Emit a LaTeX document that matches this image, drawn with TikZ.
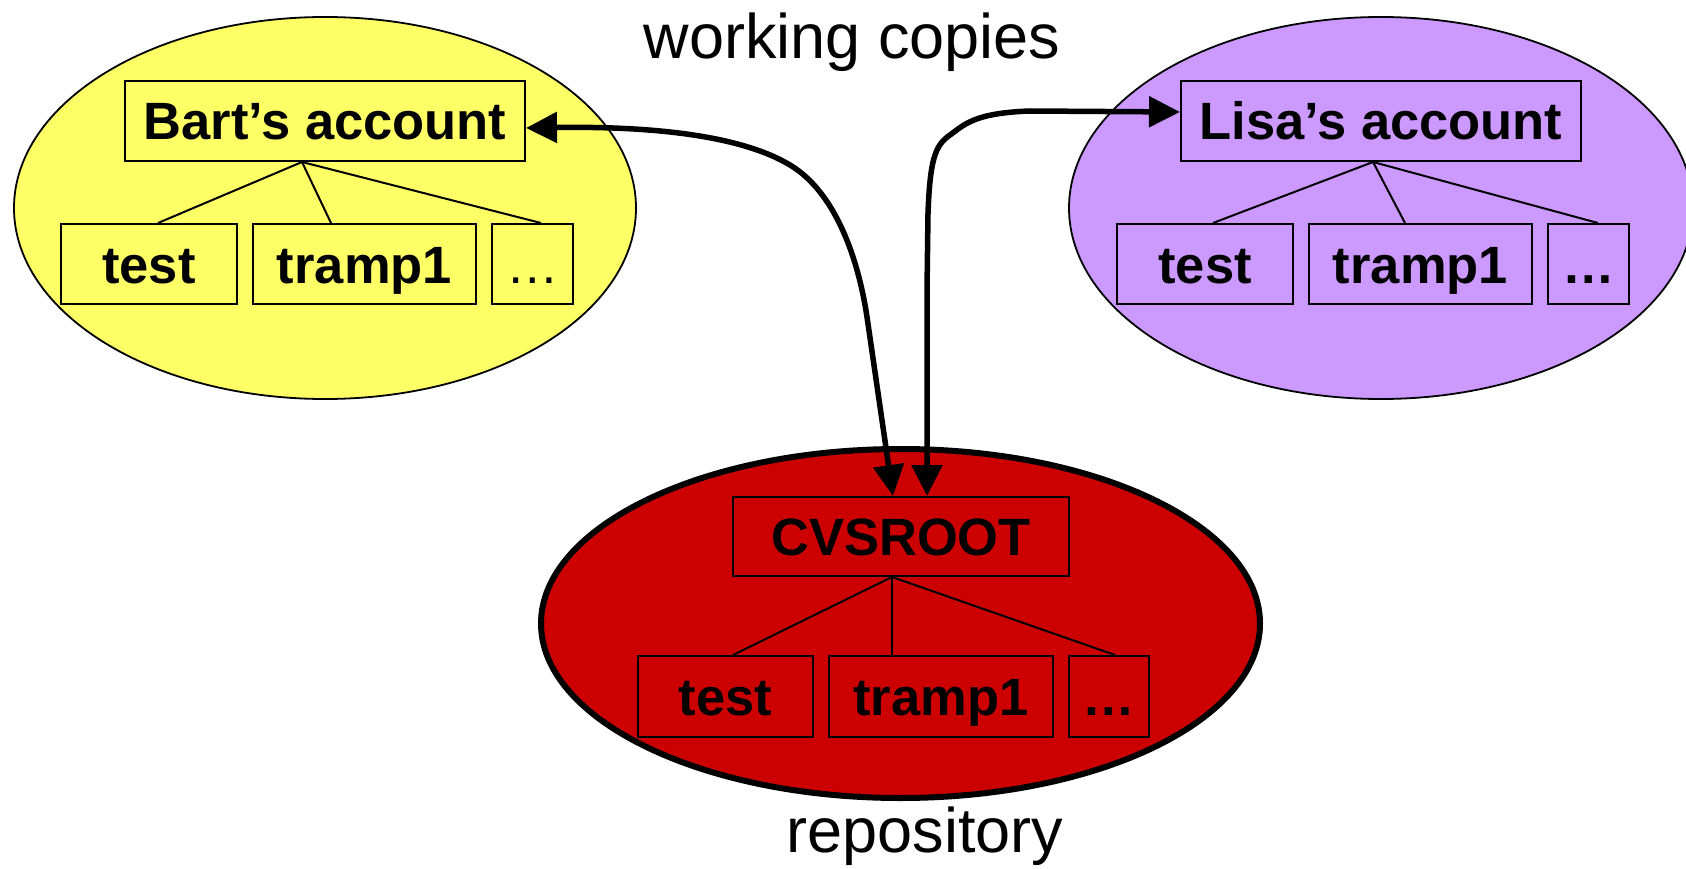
\documentclass[tikz,border=0pt]{standalone}
\usepackage{fontspec}
\setmainfont{Liberation Sans}
\usetikzlibrary{arrows.meta,calc}
\definecolor{bartyellow}{HTML}{FFFF66}
\definecolor{lisapurple}{HTML}{CC99FF}
\definecolor{cvsred}{HTML}{CC0000}
\begin{document}
\begin{tikzpicture}[x=1pt,y=-1pt,
  dirbox/.style={draw=black, line width=2pt, inner sep=0pt, minimum height=80pt,
    text height=38pt, text depth=0pt, font=\fontsize{52.5}{60}\selectfont\bfseries},
  area/.style={draw=black, line width=1.8pt},
  treeline/.style={line width=2pt},
  sync/.style={line width=5.5pt, {Triangle[length=31pt,width=30pt]}-{Triangle[length=31pt,width=30pt]}},
  caption/.style={font=\fontsize{63}{70}\selectfont, inner sep=0pt, anchor=base}]
\useasboundingbox (0,0) rectangle (1686,869);
\fill[white] (0,0) rectangle (1686,869);

% areas
\draw[area, fill=bartyellow] (325,208) ellipse [x radius=311pt, y radius=191pt];
\draw[area, fill=lisapurple] (1381,208) ellipse [x radius=312pt, y radius=191pt];
\draw[fill=cvsred, draw=black, line width=6pt] (900.5,623.5) ellipse [x radius=359.5pt, y radius=174.5pt];

% Bart
\node[dirbox, minimum width=400pt] (bart) at (325,121) {Bart’s account};
\node[dirbox, minimum width=176pt] (btest) at (149,264) {test};
\node[dirbox, minimum width=223pt] (btramp) at (364.5,264) {tramp1};
\node[dirbox, minimum width=81pt, font=\fontsize{52.5}{60}\selectfont] (bdots) at (532.5,264) {…};
\draw[treeline] ([xshift=-23pt]bart.south) -- ([xshift=9pt]btest.north);
\draw[treeline] ([xshift=-23pt]bart.south) -- ([xshift=-33.5pt]btramp.north);
\draw[treeline] ([xshift=-23pt]bart.south) -- ([xshift=8.5pt]bdots.north);

% Lisa
\node[dirbox, minimum width=400pt] (lisa) at (1381,121) {Lisa’s account};
\node[dirbox, minimum width=176pt] (ltest) at (1205,264) {test};
\node[dirbox, minimum width=223pt] (ltramp) at (1420.5,264) {tramp1};
\node[dirbox, minimum width=81pt] (ldots) at (1588.5,264) {…};
\draw[treeline] ([xshift=-8pt]lisa.south) -- ([xshift=8pt]ltest.north);
\draw[treeline] ([xshift=-8pt]lisa.south) -- ([xshift=-15.5pt]ltramp.north);
\draw[treeline] ([xshift=-8pt]lisa.south) -- ([xshift=9.5pt]ldots.north);

% CVSROOT
\node[dirbox, minimum width=336pt, minimum height=79pt] (cvs) at (901,536.5) {CVSROOT};
\node[dirbox, minimum width=175pt, minimum height=81pt] (ctest) at (725.5,696.5) {test};
\node[dirbox, minimum width=224pt, minimum height=81pt] (ctramp) at (941,696.5) {tramp1};
\node[dirbox, minimum width=80pt, minimum height=81pt] (cdots) at (1109,696.5) {…};
\draw[treeline] ([xshift=-9pt]cvs.south) -- ([xshift=7.5pt]ctest.north);
\draw[treeline] ([xshift=-9pt]cvs.south) -- ([xshift=-49pt]ctramp.north);
\draw[treeline] ([xshift=-9pt]cvs.south) -- ([xshift=6pt]cdots.north);

% sync arrows
\draw[sync] ([yshift=-7pt]bart.east) .. controls (650,126) and (740,135) .. (790,165)
  .. controls (840,195) and (860,270) .. (867,317) -- ([xshift=-8pt]cvs.north);
\draw[sync] ([xshift=26pt]cvs.north) -- (927,290) -- (928,213)
  .. controls (930,160) and (935,145) .. (950,135)
  .. controls (965,124) and (975,113) .. (1030,111) -- ([yshift=9pt]lisa.west);

% captions
\node[caption] (wc) at (852,59) {working copies};
\node[caption] (repo) at (925,852) {repository};
\end{tikzpicture}
\end{document}
